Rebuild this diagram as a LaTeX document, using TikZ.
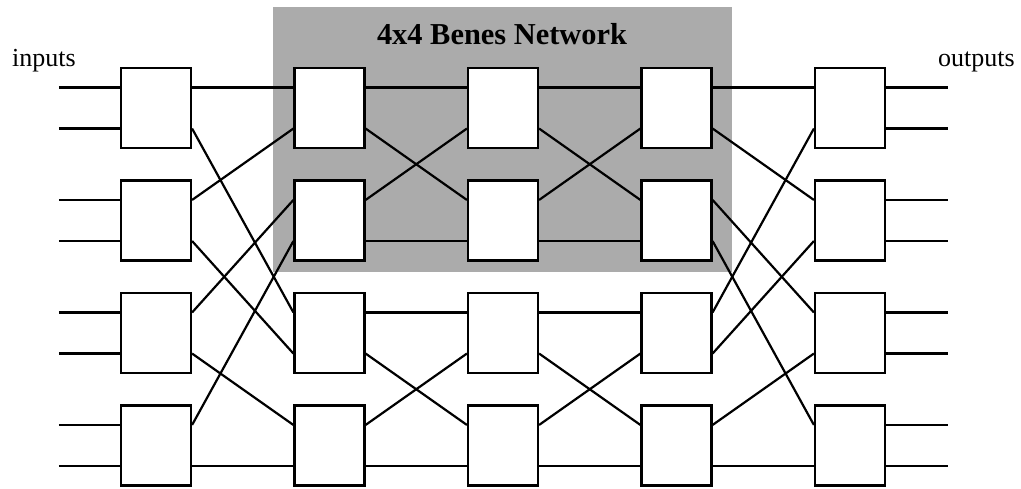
\documentclass[tikz,border=0pt]{standalone}
\usepackage{fontspec}
\setmainfont{Liberation Serif}
\usetikzlibrary{calc}
\begin{document}
\begin{tikzpicture}[x=1pt,y=-1pt,
  sw/.style={draw,fill=white,line width=2.2pt,minimum width=70pt,minimum height=80pt,inner sep=0pt},
  wire/.style={line width=2.2pt},
  shade/.style={fill=black!33},
  lbl/.style={font=\fontsize{26}{30}\selectfont,inner sep=0pt,anchor=base west},
  ttl/.style={font=\fontsize{30.4}{34}\selectfont\bfseries,inner sep=0pt,anchor=base}]
\useasboundingbox (0,0) rectangle (1021,489);
\fill[shade] (273,7) rectangle (732,272);
\node[ttl] (title) at (502,45) {4x4 Benes Network};
\node[lbl] (inlbl) at (12,67) {inputs};
\node[lbl] (outlbl) at (938,67) {outputs};
\foreach \c/\x in {1/156,2/329.5,3/503,4/676.5,5/850}{
  \foreach \r/\y in {1/108,2/220.5,3/333,4/445.5}{
    \node[sw] (b\c\r) at (\x,\y) {};
    \coordinate (la\c\r) at ($(b\c\r.north west)!.25!(b\c\r.south west)$);
    \coordinate (lb\c\r) at ($(b\c\r.north west)!.75!(b\c\r.south west)$);
    \coordinate (ra\c\r) at ($(b\c\r.north east)!.25!(b\c\r.south east)$);
    \coordinate (rb\c\r) at ($(b\c\r.north east)!.75!(b\c\r.south east)$);
  }
}
\foreach \r in {1,...,4}{
  \coordinate (ina\r) at ($(la1\r)+(-61,0)$);
  \coordinate (inb\r) at ($(lb1\r)+(-61,0)$);
  \coordinate (outa\r) at ($(ra5\r)+(62,0)$);
  \coordinate (outb\r) at ($(rb5\r)+(62,0)$);
  \draw[wire] (ina\r) -- (la1\r);
  \draw[wire] (inb\r) -- (lb1\r);
  \draw[wire] (ra5\r) -- (outa\r);
  \draw[wire] (rb5\r) -- (outb\r);
}
% column 1 -> column 2
\foreach \s/\t in {ra11/la21,ra12/lb21,ra13/la22,ra14/lb22,rb11/la23,rb12/lb23,rb13/la24,rb14/lb24}
  \draw[wire] (\s) -- (\t);
% column 2 -> column 3
\foreach \s/\t in {ra21/la31,rb21/la32,ra22/lb31,rb22/lb32,ra23/la33,rb23/la34,ra24/lb33,rb24/lb34}
  \draw[wire] (\s) -- (\t);
% column 3 -> column 4
\foreach \s/\t in {ra31/la41,rb31/la42,ra32/lb41,rb32/lb42,ra33/la43,rb33/la44,ra34/lb43,rb34/lb44}
  \draw[wire] (\s) -- (\t);
% column 4 -> column 5
\foreach \s/\t in {ra41/la51,ra43/lb51,rb41/la52,rb43/lb52,ra42/la53,ra44/lb53,rb42/la54,rb44/lb54}
  \draw[wire] (\s) -- (\t);
\end{tikzpicture}
\end{document}
